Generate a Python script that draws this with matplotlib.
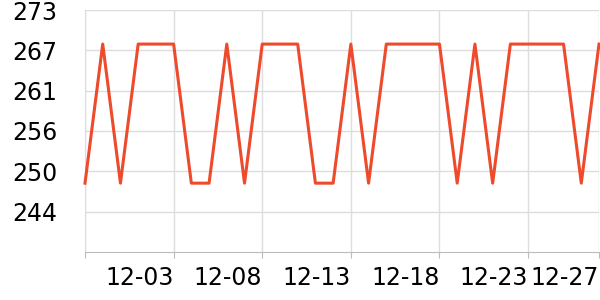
import numpy as np
import matplotlib.pyplot as plt
import pandas as pd

dates = pd.date_range("2023-11-28", periods=30).strftime("%m-%d").tolist()
hi, lo = 268.1, 248.1
pattern = "LHLHHHLLHLHHHLLHLHHHHLHLHHHHLH"
values = [hi if c == "H" else lo for c in pattern]

tick_idx = [0, 5, 10, 15, 20, 25, 29]
tick_labels = [""] + [dates[i] for i in tick_idx[1:]]

ymin, ymax = 238.2, 273.0
yticks = np.linspace(ymin, ymax, 7)[1:]

fig = plt.figure(figsize=(6, 3), dpi=100)
ax = fig.add_axes([85 / 600, 48 / 300, 514 / 600, 242 / 300])

x = np.arange(len(values))
ax.plot(x, values, color="#ee4a2c", linewidth=2.2, clip_on=False, zorder=3)

ax.set_xlim(0, len(values) - 1)
ax.set_ylim(ymin, ymax)
ax.set_yticks(yticks)
ax.set_yticklabels([f"{v:.0f}" for v in yticks])
ax.set_xticks(tick_idx)
ax.set_xticklabels(tick_labels, ha="right")

ax.grid(True, color="#dddddd", linewidth=1)
ax.set_axisbelow(True)
for s in ["top", "right"]:
    ax.spines[s].set_visible(False)
ax.spines["left"].set_color("#dddddd")
ax.spines["bottom"].set_color("#bbbbbb")
ax.tick_params(axis="y", length=0, pad=20, labelsize=17)
ax.tick_params(axis="x", length=4, color="#bbbbbb", pad=6, labelsize=17)

fig.savefig("out.png")
